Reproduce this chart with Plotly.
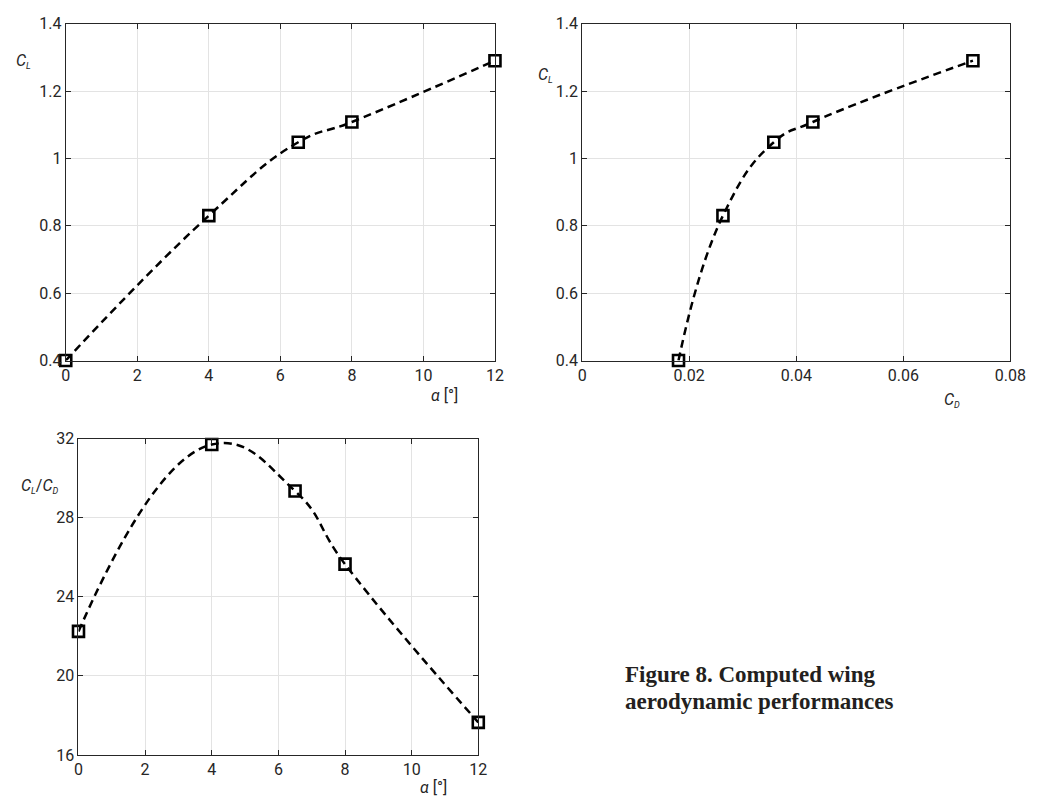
import plotly.graph_objects as go

# Computed wing aerodynamic data
alpha_deg = [0, 4, 6.5, 8, 12]
cl_values = [0.40, 0.83, 1.048, 1.108, 1.29]
cd_values = [0.0180, 0.0263, 0.0358, 0.0431, 0.0730]
cl_cd_values = [22.25, 31.7, 29.35, 25.65, 17.65]

# Tick labels
alpha_ticks = [0, 2, 4, 6, 8, 10, 12]
cl_ticks = [0.4, 0.6, 0.8, 1.0, 1.2, 1.4]
cl_tick_text = ["0.4", "0.6", "0.8", "1", "1.2", "1.4"]
cd_ticks = [0, 0.02, 0.04, 0.06, 0.08]
cd_tick_text = ["0", "0.02", "0.04", "0.06", "0.08"]
ratio_ticks = [16, 20, 24, 28, 32]

caption_lines = ["Figure 8. Computed wing", "aerodynamic performances"]

W, H = 1045, 805


def px_x(p):
    return p / W


def px_y(p):
    return 1 - p / H


TICK_FONT = dict(family="Roboto", size=16, color="#262626")
LABEL_FONT = dict(family="Roboto", size=16, color="#262626")
AXIS_COLOR = "#262626"
GRID_COLOR = "#e3e3e3"

fig = go.Figure()

line_style = dict(color="black", width=2.5, dash="8px,5px", shape="spline", smoothing=1.3)
marker_style = dict(symbol="square-open", size=11, color="black", line=dict(color="black", width=2.6))

fig.add_trace(go.Scatter(x=alpha_deg, y=cl_values, mode="lines+markers", line=line_style,
                         marker=marker_style, cliponaxis=False, xaxis="x", yaxis="y"))
fig.add_trace(go.Scatter(x=cd_values, y=cl_values, mode="lines+markers", line=line_style,
                         marker=marker_style, cliponaxis=False, xaxis="x2", yaxis="y2"))
fig.add_trace(go.Scatter(x=alpha_deg, y=cl_cd_values, mode="lines+markers", line=line_style,
                         marker=marker_style, cliponaxis=False, xaxis="x3", yaxis="y3"))


def axis_common():
    return dict(showline=True, linecolor=AXIS_COLOR, linewidth=1, mirror="ticks",
                ticks="inside", ticklen=5, tickcolor=AXIS_COLOR, tickwidth=1,
                showgrid=True, gridcolor=GRID_COLOR, gridwidth=1, zeroline=False,
                tickfont=TICK_FONT, fixedrange=True)


# panel boxes in pixels: (left, right, top, bottom)
tl = (62, 500, 15, 360)
tr = (589, 1026, 15, 360)
bl = (75, 483, 440, 764)

fig.update_layout(
    width=W, height=H, margin=dict(l=0, r=0, t=0, b=0),
    paper_bgcolor="white", plot_bgcolor="white", showlegend=False,
    xaxis=dict(**axis_common(), domain=[px_x(tl[0]), px_x(tl[1])], range=[0, 12],
               tickvals=alpha_ticks, anchor="y"),
    yaxis=dict(**axis_common(), domain=[px_y(tl[3]), px_y(tl[2])], range=[0.4, 1.4],
               tickvals=cl_ticks, ticktext=cl_tick_text, anchor="x"),
    xaxis2=dict(**axis_common(), domain=[px_x(tr[0]), px_x(tr[1])], range=[0, 0.08],
                tickvals=cd_ticks, ticktext=cd_tick_text, anchor="y2"),
    yaxis2=dict(**axis_common(), domain=[px_y(tr[3]), px_y(tr[2])], range=[0.4, 1.4],
                tickvals=cl_ticks, ticktext=cl_tick_text, anchor="x2"),
    xaxis3=dict(**axis_common(), domain=[px_x(bl[0]), px_x(bl[1])], range=[0, 12],
                tickvals=alpha_ticks, anchor="y3"),
    yaxis3=dict(**axis_common(), domain=[px_y(bl[3]), px_y(bl[2])], range=[16, 32],
                tickvals=ratio_ticks, anchor="x3"),
)


def sub(letter):
    return "<sub><span style='font-size:9px'><i>" + letter + "</i></span></sub>"


cl_label = "<i>C</i>" + sub("L")
cd_label = "<i>C</i>" + sub("D")
alpha_label = "<i>α</i> [°]"

labels = [
    (cl_label, 9, 53, "left"),
    (alpha_label, 449, 396, "center"),
    (cl_label, 542, 68, "left"),
    (cd_label, 966, 400, "center"),
    (cl_label + "/" + cd_label, 14, 489, "left"),
    (alpha_label, 437, 797, "center"),
]
for text, x, y, anchor in labels:
    fig.add_annotation(text=text, x=px_x(x), y=px_y(y), xref="paper", yref="paper",
                       xanchor=anchor, yanchor="middle", showarrow=False, font=LABEL_FONT)

# figure caption, one annotation per line
for text, y in zip(caption_lines, [682, 709]):
    fig.add_annotation(
        text="<b>" + text + "</b>", x=px_x(631), y=px_y(y), xref="paper", yref="paper",
        xanchor="left", yanchor="middle", showarrow=False,
        font=dict(family="Liberation Serif", size=23, color="#231f20"),
    )

fig.write_html("out.html")
